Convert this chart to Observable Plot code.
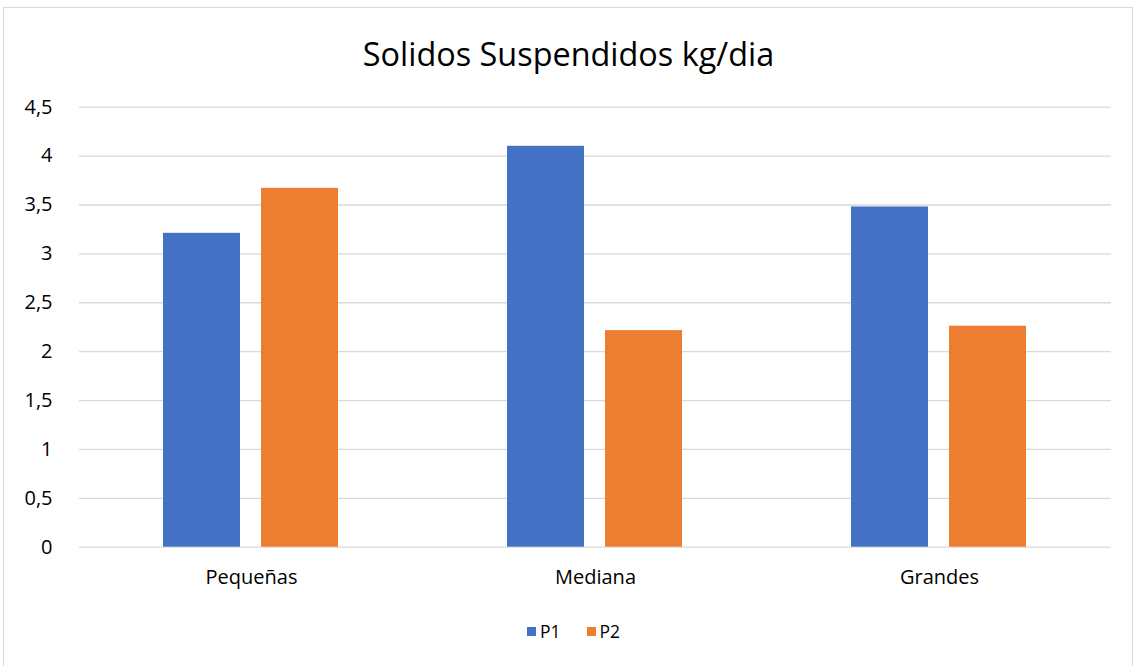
<!DOCTYPE html>
<html>
<head>
<meta charset="utf-8">
<script src="https://cdn.jsdelivr.net/npm/d3@7"></script>
<script src="https://cdn.jsdelivr.net/npm/@observablehq/plot@0.6"></script>
<style>
  body { margin: 0; background: #fff; font-family: "Open Sans", sans-serif; }
  #wrap { position: relative; width: 1137px; height: 666px; overflow: hidden; }
  #frame { position: absolute; left: 3px; top: 7px; width: 1130px; height: 660px; border: 1px solid #d9d9d9; box-sizing: border-box; }
  #title { position: absolute; left: 0; width: 1137px; top: 31px; text-align: center; font-size: 32.4px; color: #000; }
  #chart { position: absolute; left: 0; top: 0; }
  #legend { position: absolute; left: 5px; width: 1137px; top: 619px; display: flex; justify-content: center; gap: 26px; font-size: 17.5px; color: #000; }
  #legend span.item { display: flex; align-items: center; gap: 4px; }
  #legend span.sw { display: inline-block; width: 9px; height: 9px; }
</style>
</head>
<body>
<div id="wrap">
  <div id="frame"></div>
  <div id="chart"></div>
  <div id="title">Solidos Suspendidos kg/dia</div>
  <div id="legend"></div>
</div>
<script>
const categories = ["Pequeñas", "Mediana", "Grandes"];
const series = ["P1", "P2"];
const p1Values = [3.21, 4.10, 3.48];
const p2Values = [3.67, 2.215, 2.26];
const yTicks = [0, 0.5, 1, 1.5, 2, 2.5, 3, 3.5, 4, 4.5];
const colors = ["#4472C4", "#ED7D31"];

const data = [];
categories.forEach((c, i) => {
  data.push({cat: c, s: "P1", v: p1Values[i]});
  data.push({cat: c, s: "P2", v: p2Values[i]});
});
const fmt = d => String(d).replace(".", ",");

const chart = Plot.plot({
  width: 1137,
  height: 600,
  marginTop: 106.7,
  marginBottom: 53.3,
  marginLeft: 78,
  marginRight: 25,
  style: {fontFamily: "'Open Sans', sans-serif", fontSize: "20px", color: "#000", background: "transparent"},
  fx: {domain: categories, padding: 0, label: null, tickSize: 0, tickPadding: 23, axis: "bottom"},
  x: {domain: series, paddingInner: 0.212, paddingOuter: 0.847, axis: null},
  y: {domain: [0, 4.5], ticks: yTicks, tickFormat: fmt, label: null, tickSize: 0, tickPadding: 27},
  color: {domain: series, range: colors},
  marks: [
    Plot.gridY(yTicks, {stroke: "#d9d9d9", strokeOpacity: 1, strokeWidth: 1.3, facet: "exclude"}),
    Plot.barY(data, {fx: "cat", x: "s", y: "v", fill: "s"}),
  ]
});
document.getElementById("chart").appendChild(chart);

const legend = document.getElementById("legend");
series.forEach((s, i) => {
  const item = document.createElement("span");
  item.className = "item";
  item.innerHTML = `<span class="sw" style="background:${colors[i]}"></span><span>${s}</span>`;
  legend.appendChild(item);
});
</script>
</body>
</html>
